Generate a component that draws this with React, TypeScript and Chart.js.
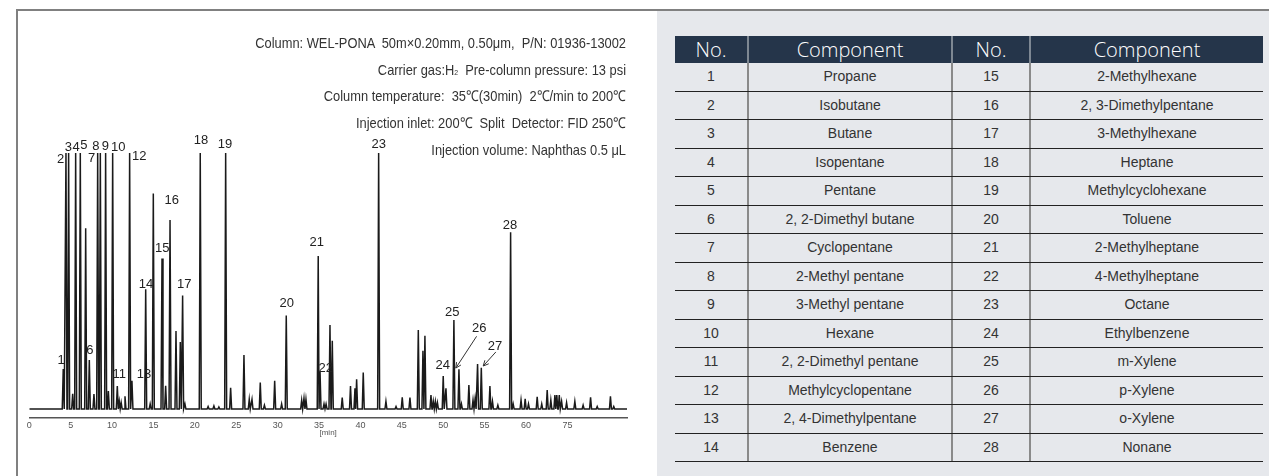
import React, { useEffect, useRef } from "react";
import { Chart, registerables } from "chart.js";

Chart.register(...registerables);

// ---- chromatogram peaks: retention time [min] and relative height (100 = clipped at top)
const peakTimes = [
  4.1, 4.43, 4.75, 5.24, 5.6, 6.16, 6.81, 7.25, 7.81, 8.26, 8.58, 9.22, 9.55, 10.07, 10.63,
  10.87, 11.1, 11.56, 12.12, 12.4, 14.06, 14.6, 14.98, 16.03, 16.47, 17.0, 17.72, 18.24, 18.52,
  18.8, 20.65, 21.6, 22.3, 22.9, 23.72, 24.32, 25.93, 26.57, 26.9, 27.9, 28.4, 29.64, 30.48,
  31.04, 32.9, 33.18, 33.42, 34.9, 35.12, 35.6, 35.85, 36.32, 36.6, 37.8, 38.8, 39.34, 39.54,
  40.34, 42.2, 43.08, 44.3, 45.05, 45.98, 46.99, 47.55, 47.79, 48.52, 48.8, 49.05, 49.3, 50.0,
  50.33, 51.29, 51.9, 52.2, 53.1, 53.6, 53.85, 54.15, 54.6, 55.64, 55.95, 56.6, 58.14, 58.45,
  59.4, 59.9, 60.3, 61.35, 61.9, 62.56, 63.0, 63.49, 63.72, 64.02, 64.3, 64.9, 65.9, 66.9,
  67.8, 68.6, 70.2, 70.6,
];
const peakHeights = [
  15.6, 100, 100, 6, 100, 100, 70.6, 19.1, 5.9, 100, 100, 100, 7, 100, 9,
  3, 2.5, 5, 100, 11, 46.8, 2, 84.2, 58.8, 9.1, 73.8, 30.5, 26.2, 44.3,
  2, 100, 1, 1.2, 0.8, 100, 8.3, 21.1, 3.8, 3.8, 10.4, 1.5, 11, 2,
  36.5, 3.4, 4.2, 3.8, 59.8, 14.6, 2, 2, 32.8, 26.7, 4.5, 9, 8.1, 11.6,
  14.3, 100, 3, 1, 4.6, 4.5, 30.9, 22.8, 28.6, 5.5, 3, 3, 2.5, 12.9,
  8.1, 34.8, 15.5, 2, 9.4, 3.5, 4, 17.6, 16.1, 9, 3, 1.5, 69, 2,
  3.5, 4, 2, 4.8, 2, 7.4, 3.5, 5.5, 5.5, 5.5, 3, 2.5, 3, 1.5,
  4.6, 1, 5, 1,
];
const traceStart = 0;
const traceEnd = 72.2;

// ---- x axis ticks (as printed on the original)
const xTickValues = [0, 5, 10, 15, 20, 25, 30, 35, 40, 45, 50, 55, 60, 65];
const xTickLabels = ["0", "5", "10", "15", "20", "25", "30", "35", "40", "45", "50", "55", "60", "75"];

// ---- peak number labels
const labelTexts = [
  "1", "2", "3", "4", "5", "6", "7", "8", "9", "10", "11", "12", "13", "14",
  "15", "16", "17", "18", "19", "20", "21", "22", "23", "24", "25", "26", "27", "28",
];
const labelTimes = [
  3.83, 3.79, 4.71, 5.64, 6.6, 7.33, 7.54, 8.05, 9.18, 10.75, 10.87, 13.28, 13.85, 14.1,
  16.06, 17.2, 18.72, 20.74, 23.64, 31.09, 34.71, 35.8, 42.2, 49.93, 51.08, 54.35, 56.24, 58.06,
];
const labelLevels = [
  19.1, 97.5, 102, 102, 103.1, 23, 97.9, 102.7, 102.7, 102.3, 13.7, 98.5, 13.7, 48.8,
  62.7, 81.6, 48.8, 105.1, 103.4, 41.3, 65, 15.7, 103.4, 17.2, 37.6, 31.5, 24.6, 71.6,
];

// ---- leader arrows (for peaks 26 and 27)
const arrowFromTimes = [54.03, 56.36];
const arrowFromLevels = [28.4, 22.3];
const arrowToTimes = [51.52, 54.83];
const arrowToLevels = [16.0, 16.8];

// ---- conditions text
const infoLines = [
  "Column: WEL-PONA  50m×0.20mm, 0.50μm,  P/N: 01936-13002",
  "Carrier gas:H|2|  Pre-column pressure: 13 psi",
  "Column temperature:  35℃(30min)  2℃/min to 200℃",
  "Injection inlet: 200℃  Split  Detector: FID 250℃",
  "Injection volume: Naphthas 0.5 μL",
];

// ---- component table
const tableHeaders = ["No.", "Component", "No.", "Component"];
const leftNos = ["1", "2", "3", "4", "5", "6", "7", "8", "9", "10", "11", "12", "13", "14"];
const leftNames = [
  "Propane", "Isobutane", "Butane", "Isopentane", "Pentane", "2, 2-Dimethyl butane", "Cyclopentane",
  "2-Methyl pentane", "3-Methyl pentane", "Hexane", "2, 2-Dimethyl pentane", "Methylcyclopentane",
  "2, 4-Dimethylpentane", "Benzene",
];
const rightNos = ["15", "16", "17", "18", "19", "20", "21", "22", "23", "24", "25", "26", "27", "28"];
const rightNames = [
  "2-Methylhexane", "2, 3-Dimethylpentane", "3-Methylhexane", "Heptane", "Methylcyclohexane", "Toluene",
  "2-Methylheptane", "4-Methylheptane", "Octane", "Ethylbenzene", "m-Xylene", "p-Xylene", "o-Xylene", "Nonane",
];

const PEAK_HALF_WIDTH = 0.12;
const colWidths = [72, 204, 78, 234];

const labelPlugin = {
  id: "peakLabels",
  afterDatasetsDraw(chart: any) {
    const { ctx, scales } = chart;
    const x = scales.x;
    const y = scales.y;
    ctx.save();
    ctx.fillStyle = "#222";
    ctx.font = '13px "Liberation Sans", Arial, sans-serif';
    ctx.textAlign = "center";
    ctx.textBaseline = "middle";
    labelTexts.forEach((s, i) => {
      ctx.fillText(s, x.getPixelForValue(labelTimes[i]), y.getPixelForValue(labelLevels[i]));
    });
    ctx.strokeStyle = "#333";
    ctx.lineWidth = 1;
    arrowFromTimes.forEach((t, i) => {
      const x1 = x.getPixelForValue(t);
      const y1 = y.getPixelForValue(arrowFromLevels[i]);
      const x2 = x.getPixelForValue(arrowToTimes[i]);
      const y2 = y.getPixelForValue(arrowToLevels[i]);
      const a = Math.atan2(y2 - y1, x2 - x1);
      const L = 6;
      ctx.beginPath();
      ctx.moveTo(x1, y1);
      ctx.lineTo(x2, y2);
      ctx.moveTo(x2 - L * Math.cos(a - 0.45), y2 - L * Math.sin(a - 0.45));
      ctx.lineTo(x2, y2);
      ctx.lineTo(x2 - L * Math.cos(a + 0.45), y2 - L * Math.sin(a + 0.45));
      ctx.stroke();
    });
    ctx.restore();
  },
};

function Chromatogram() {
  const ref = useRef<HTMLCanvasElement | null>(null);
  useEffect(() => {
    if (!ref.current) return;
    const pts: { x: number; y: number }[] = [{ x: traceStart, y: 0 }];
    peakTimes.forEach((t, i) => {
      pts.push({ x: t - PEAK_HALF_WIDTH, y: 0 }, { x: t, y: peakHeights[i] }, { x: t + PEAK_HALF_WIDTH, y: 0 });
    });
    pts.push({ x: traceEnd, y: 0 });
    pts.sort((a, b) => a.x - b.x);
    const chart = new Chart(ref.current, {
      type: "line",
      data: {
        datasets: [
          {
            data: pts,
            borderColor: "#1a1a1a",
            borderWidth: 1.5,
            pointRadius: 0,
            tension: 0,
            fill: false,
          },
        ],
      },
      options: {
        responsive: false,
        animation: false,
        events: [],
        layout: { padding: { left: 29.3, right: 30, top: 153, bottom: 38 } },
        plugins: { legend: { display: false }, tooltip: { enabled: false }, title: { display: false } },
        scales: {
          x: {
            type: "linear",
            min: 0,
            max: traceEnd,
            afterBuildTicks: (s: any) => {
              s.ticks = xTickValues.map((v) => ({ value: v }));
            },
            afterFit: (s: any) => {
              s.height = 20;
            },
            ticks: {
              autoSkip: false,
              maxRotation: 0,
              padding: 2,
              color: "#555",
              font: { size: 9, family: '"Liberation Sans", Arial, sans-serif' },
              callback: (_v: any, i: number) => xTickLabels[i],
            },
            grid: { display: false, drawTicks: false },
            border: { display: true, color: "#555", width: 1.5 },
            title: {
              display: true,
              text: "[min]",
              color: "#555",
              padding: 0,
              font: { size: 8, family: '"Liberation Sans", Arial, sans-serif' },
            },
          },
          y: { display: false, min: -3.5, max: 100 },
        },
      },
      plugins: [labelPlugin],
    } as any);
    return () => chart.destroy();
  }, []);
  return <canvas ref={ref} width={657} height={476} style={{ position: "absolute", left: 0, top: 0 }} />;
}

function InfoLine({ text }: { text: string }) {
  const parts = text.split("|");
  return (
    <>
      {parts.map((p, i) =>
        i % 2 === 1 ? (
          <span key={i} style={{ fontSize: 8 }}>
            {p}
          </span>
        ) : (
          <span key={i}>{p}</span>
        )
      )}
    </>
  );
}

export default function App() {
  const bodyFont = '"Liberation Sans", Arial, sans-serif';
  return (
    <div
      style={{
        position: "absolute",
        left: 0,
        top: 0,
        width: 1269,
        height: 476,
        background: "#fff",
        overflow: "hidden",
        fontFamily: bodyFont,
      }}
    >
      <div style={{ position: "absolute", left: 657, top: 11, right: 0, bottom: 0, background: "#e6e8ec" }} />
      <div style={{ position: "absolute", left: 16, top: 9, width: 1253, height: 2, background: "#808080" }} />
      <div style={{ position: "absolute", left: 16, top: 9, width: 2, height: 467, background: "#808080" }} />
      <Chromatogram />
      {infoLines.map((line, i) => (
        <div
          key={i}
          style={{
            position: "absolute",
            left: 0,
            width: 626,
            top: 42.7 + i * 26.8 - 10,
            height: 20,
            lineHeight: "20px",
            textAlign: "right",
            whiteSpace: "pre",
            fontFamily: bodyFont,
            fontSize: 15,
            color: "#333",
            transform: "scaleX(0.857)",
            transformOrigin: "626px 50%",
          }}
        >
          <InfoLine text={line} />
        </div>
      ))}
      <div style={{ position: "absolute", left: 675, top: 36, width: 588 }}>
        <div style={{ display: "flex", height: 27, background: "#25354a" }}>
          {tableHeaders.map((h, i) => (
            <div
              key={i}
              style={{
                width: colWidths[i],
                boxSizing: "border-box",
                borderLeft: i > 0 ? "2px solid #7e8893" : "none",
                color: "#fff",
                fontFamily: '"Open Sans", sans-serif',
                fontWeight: 300,
                fontSize: 20,
                lineHeight: "27px",
                textAlign: "center",
              }}
            >
              {h}
            </div>
          ))}
        </div>
        {leftNos.map((n, r) => {
          const cells = [n, leftNames[r], rightNos[r], rightNames[r]];
          return (
            <div key={r} style={{ display: "flex", height: 28.5, borderBottom: "1px solid #222", boxSizing: "border-box" }}>
              {cells.map((c, i) => (
                <div
                  key={i}
                  style={{
                    width: colWidths[i],
                    boxSizing: "border-box",
                    borderLeft: i > 0 ? "2px solid #8a8a8a" : "none",
                    color: "#333",
                    fontSize: 14,
                    lineHeight: "27px",
                    textAlign: "center",
                  }}
                >
                  {c}
                </div>
              ))}
            </div>
          );
        })}
      </div>
    </div>
  );
}
